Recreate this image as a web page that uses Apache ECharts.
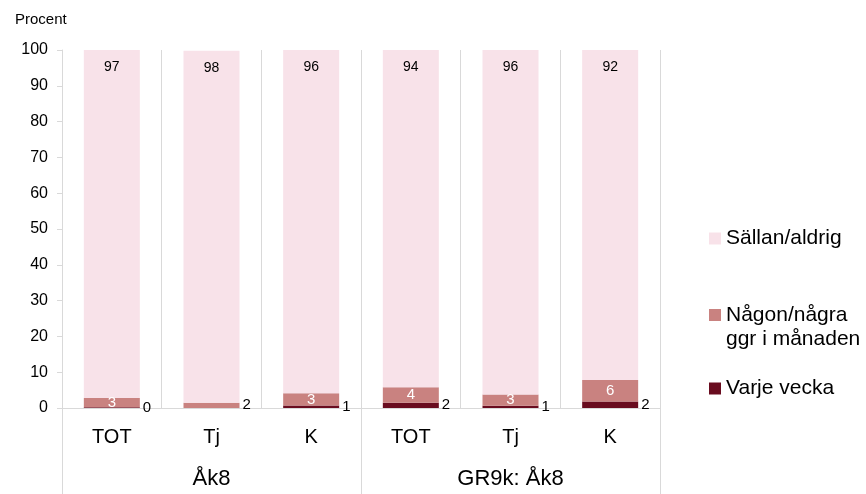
<!DOCTYPE html>
<html>
<head>
<meta charset="utf-8">
<script src="https://cdn.jsdelivr.net/npm/echarts@6/dist/echarts.min.js"></script>
<style>
  html, body { margin: 0; padding: 0; background: #fff; }
  #chart { width: 866px; height: 494px; }
</style>
</head>
<body>
<div id="chart"></div>
<script>
// kategorier
const categories = ['TOT', 'Tj', 'K', 'TOT', 'Tj', 'K']
const groups = ['Åk8', 'GR9k: Åk8']

// andelar i procent
const varjeVecka = [0.2, 0, 0.7, 1.5, 0.6, 1.8]
const nagonGgr = [2.6, 1.5, 3.4, 4.3, 3.2, 6.0]
const sallanAldrig = [97.2, 98.3, 95.9, 94.2, 96.2, 92.2]

const FONT = 'Liberation Sans, Arial, sans-serif'
const colors = {
  sallan: '#f8e2e9',
  nagon: '#c98280',
  varje: '#690c1f'
}

const rightLabel = {
  show: true,
  position: 'right',
  distance: 3,
  color: '#000',
  fontSize: 15,
  fontFamily: FONT,
  formatter: p => Math.round(p.value)
}

const legendText = { fontSize: 21, color: '#000', fontFamily: FONT }

const chart = echarts.init(document.getElementById('chart'))

chart.setOption({
  animation: false,
  title: {
    text: 'Procent',
    left: 10,
    top: 7,
    textStyle: { fontSize: 15, fontWeight: 'normal', color: '#000', fontFamily: FONT }
  },
  legend: [
    {
      data: ['Sällan/aldrig'],
      left: 704,
      top: 223,
      itemWidth: 12,
      itemHeight: 12,
      icon: 'rect',
      textStyle: legendText
    },
    {
      // ikonen i höjd med första raden
      data: ['Någon/några\nggr i månaden'],
      left: 704,
      top: 298,
      itemWidth: 12,
      itemHeight: 36,
      icon: 'path://M0,0H12V12H0Z M0,36L0.01,36',
      textStyle: Object.assign({}, legendText, { lineHeight: 24 })
    },
    {
      data: ['Varje vecka'],
      left: 704,
      top: 373,
      itemWidth: 12,
      itemHeight: 12,
      icon: 'rect',
      textStyle: legendText
    }
  ],
  grid: {
    left: 62,
    right: 206,
    top: 50,
    bottom: 86
  },
  xAxis: [
    {
      type: 'category',
      data: categories,
      axisLine: { lineStyle: { color: '#d9d9d9' } },
      axisTick: { show: false },
      splitLine: { show: true, interval: 0, lineStyle: { color: '#d9d9d9' } },
      axisLabel: { color: '#000', fontSize: 20, fontFamily: FONT, margin: 19, interval: 0 }
    },
    {
      type: 'category',
      data: groups,
      position: 'bottom',
      axisLine: { show: false },
      axisTick: { show: true, length: 86, interval: 0, lineStyle: { color: '#d9d9d9' } },
      axisLabel: { color: '#000', fontSize: 22, fontFamily: FONT, margin: 60 }
    }
  ],
  yAxis: {
    type: 'value',
    min: 0,
    max: 100,
    interval: 10,
    axisLine: { show: true, lineStyle: { color: '#d9d9d9' } },
    axisTick: { show: true, length: 5, lineStyle: { color: '#d9d9d9' } },
    splitLine: { show: false },
    axisLabel: { color: '#000', fontSize: 16, fontFamily: FONT, margin: 14 }
  },
  series: [
    {
      name: 'Varje vecka',
      type: 'bar',
      stack: 'total',
      barWidth: 56,
      itemStyle: { color: colors.varje },
      data: varjeVecka.map(v => ({
        value: v,
        label: Object.assign({}, rightLabel, { show: v > 0 })
      }))
    },
    {
      name: 'Någon/några\nggr i månaden',
      type: 'bar',
      stack: 'total',
      barWidth: 56,
      itemStyle: { color: colors.nagon },
      data: nagonGgr.map(v => ({
        value: v,
        label: v >= 2.5
          ? { show: true, position: 'inside', color: '#fff', fontSize: 15, fontFamily: FONT, formatter: p => Math.round(p.value) }
          : rightLabel
      }))
    },
    {
      name: 'Sällan/aldrig',
      type: 'bar',
      stack: 'total',
      barWidth: 56,
      itemStyle: { color: colors.sallan },
      label: {
        show: true,
        position: 'insideTop',
        distance: 10,
        color: '#000',
        fontSize: 14,
        fontFamily: FONT,
        formatter: p => Math.round(p.value)
      },
      data: sallanAldrig
    }
  ]
})
</script>
</body>
</html>
